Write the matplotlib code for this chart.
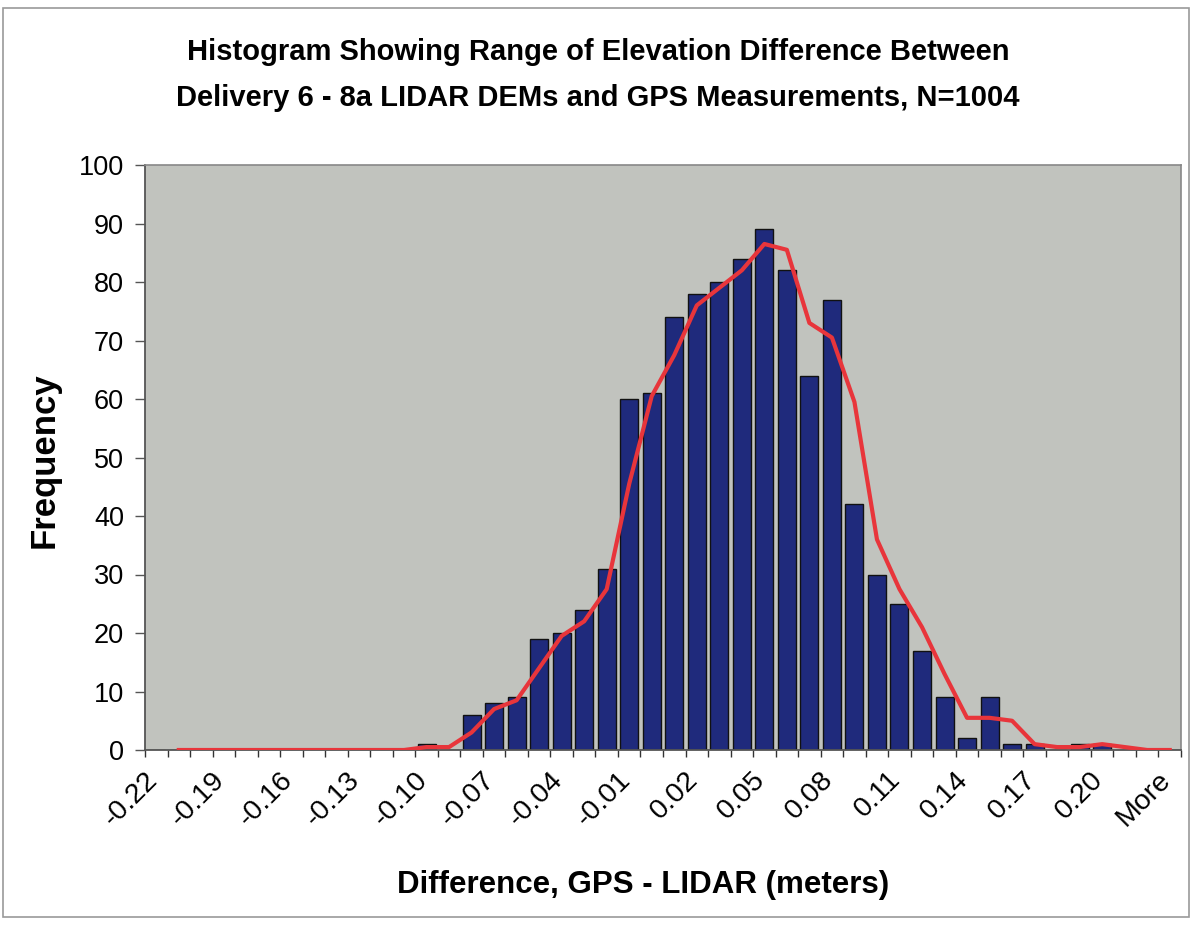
import matplotlib
matplotlib.use("Agg")
import matplotlib.pyplot as plt
from matplotlib.patches import Rectangle
from matplotlib.transforms import ScaledTranslation

categories = [f"{v/100:.2f}" for v in range(-22, 23)] + ["More"]
frequency = [0, 0, 0, 0, 0, 0, 0, 0, 0, 0, 0, 0, 1, 0, 6, 8, 9, 19, 20, 24,
             31, 60, 61, 74, 78, 80, 84, 89, 82, 64, 77, 42, 30, 25, 17, 9,
             2, 9, 1, 1, 0, 1, 1, 0, 0, 0]
# 2-period moving average trendline, starting at 2nd category
trend = [0, 0, 0, 0, 0, 0, 0, 0, 0, 0, 0, 0.5, 0.5, 3, 7, 8.5, 14, 19.5, 22,
         27.5, 45.5, 60.5, 67.5, 76, 79, 82, 86.5, 85.5, 73, 70.5, 59.5, 36,
         27.5, 21, 13, 5.5, 5.5, 5, 1, 0.5, 0.5, 1, 0.5, 0, 0]
label_every = 3

plt.rcParams['font.family'] = ['Liberation Sans', 'DejaVu Sans']

W, H = 1192, 925
fig = plt.figure(figsize=(W / 100, H / 100), dpi=100)
fig.patch.set_facecolor('white')
fig.add_artist(Rectangle((3 / W, 1 - 917 / H), 1186 / W, 909 / H,
                         transform=fig.transFigure, fill=False,
                         edgecolor='#9a9a9a', linewidth=1.2))

ax = fig.add_axes([145 / W, 1 - 750 / H, 1036 / W, 585 / H])
ax.set_facecolor('#c1c3be')

x = list(range(len(categories)))
ax.bar(x, frequency, width=0.8, color='#1f2a7c', edgecolor='#111111',
       linewidth=1.0, zorder=2)
ax.plot(x[1:], trend, color='#e8353b', linewidth=3, zorder=3,
        solid_joinstyle='round')

ax.set_xlim(-0.5, len(categories) - 0.5)
ax.set_ylim(0, 100)
ax.set_yticks(range(0, 101, 10))
ax.tick_params(axis='y', labelsize=19.5, length=7, width=1, color='#555555',
               pad=8)

ax.set_xticks(x[::label_every])
ax.set_xticklabels(categories[::label_every], rotation=45, ha='right',
                   va='top', rotation_mode='anchor', fontsize=20.5)
ax.set_xticks([i - 0.5 for i in range(len(categories) + 1)], minor=True)
ax.tick_params(axis='x', which='major', length=0, pad=12)
ax.tick_params(axis='x', which='minor', length=5, width=1, color='#333333')
shift = ScaledTranslation(-12 / 100, 0, fig.dpi_scale_trans)
for lbl in ax.get_xticklabels():
    lbl.set_transform(lbl.get_transform() + shift)

for s in ['left', 'bottom']:
    ax.spines[s].set_color('#555555')
    ax.spines[s].set_linewidth(1.3)
for s in ['top', 'right']:
    ax.spines[s].set_color('#888888')
    ax.spines[s].set_linewidth(1.2)

fig.text(598 / W, 1 - 52 / H,
         "Histogram Showing Range of Elevation Difference Between",
         ha='center', va='center', fontsize=21, fontweight='bold')
fig.text(598 / W, 1 - 98 / H,
         "Delivery 6 - 8a LIDAR DEMs and GPS Measurements, N=1004",
         ha='center', va='center', fontsize=21, fontweight='bold')
fig.text(643 / W, 1 - 885 / H, "Difference, GPS - LIDAR (meters)",
         ha='center', va='center', fontsize=22.5, fontweight='bold')
fig.text(44 / W, 1 - 460 / H, "Frequency", rotation=90,
         ha='center', va='center', fontsize=25, fontweight='bold')

fig.savefig("out.png", dpi=100)
